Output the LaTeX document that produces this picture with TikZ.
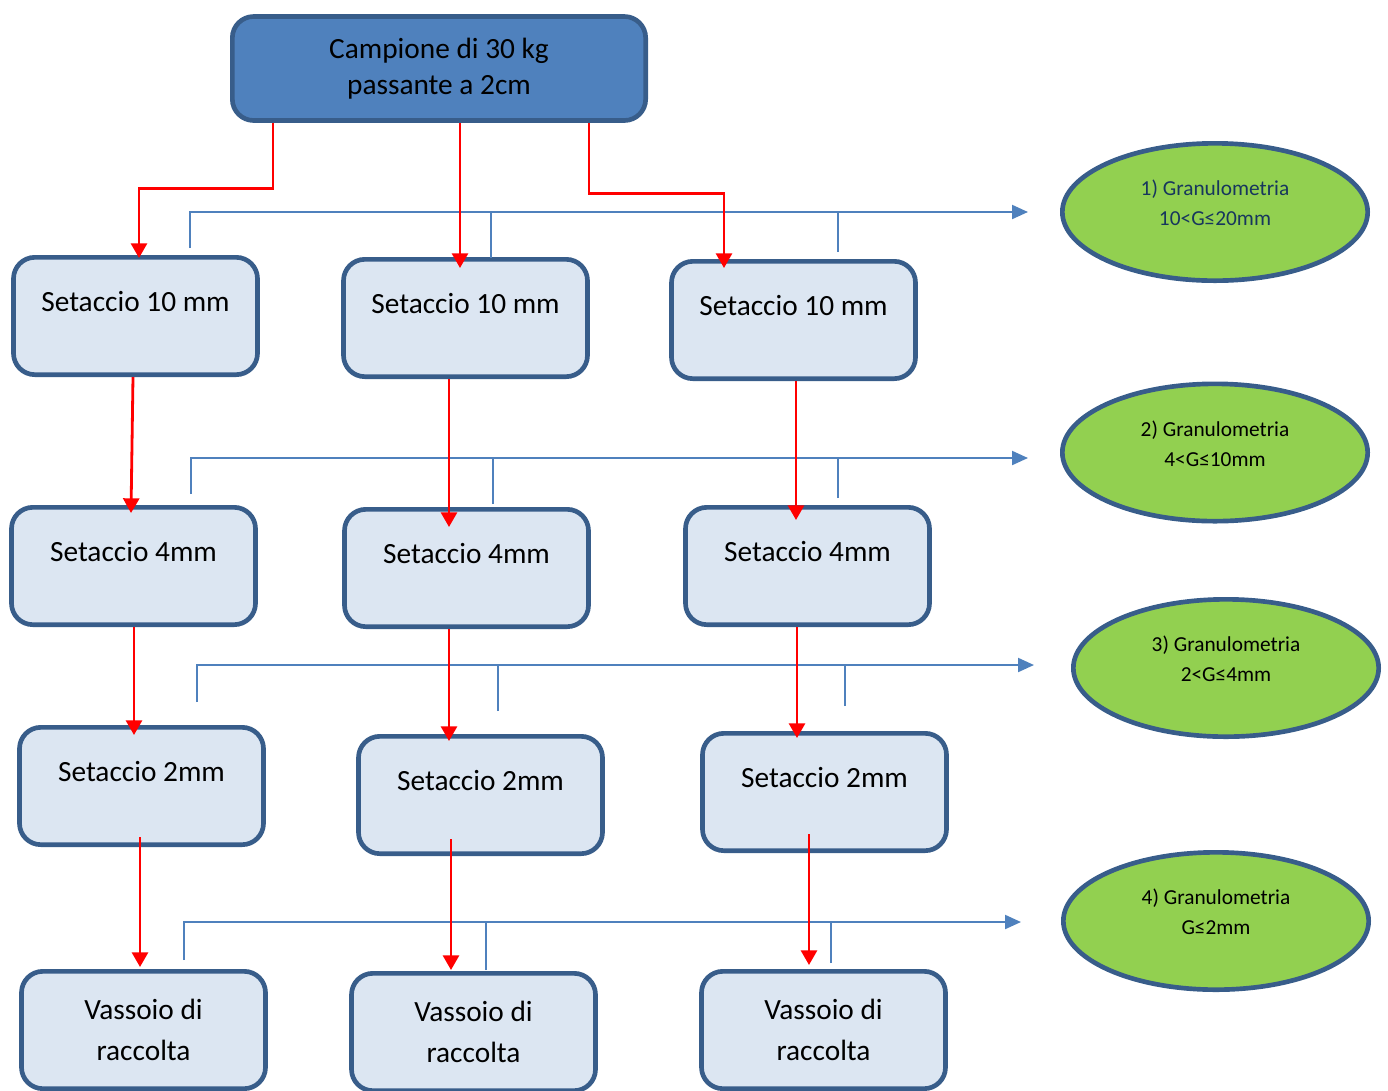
\documentclass[tikz,border=0pt]{standalone}
\usepackage{fontspec}
\setmainfont{Carlito}
\usetikzlibrary{calc,shapes.geometric,arrows.meta}
\definecolor{blue1}{HTML}{4F81BD}
\definecolor{blue2}{HTML}{385D8A}
\definecolor{blue4}{HTML}{DCE6F2}
\definecolor{green1}{HTML}{92D050}
\definecolor{navy1}{HTML}{17365D}

\begin{document}
\begin{tikzpicture}[x=0.75pt, y=-0.75pt,
				box/.style=		{rectangle, rounded corners=16pt, line width=3.5pt, draw=blue2, align=center, font=\fontsize{22}{30.75}\selectfont},
				samplebox/.style=	{box, fill=blue1, minimum width=310pt, minimum height=78pt, font=\fontsize{22}{27}\selectfont},
				sievebox/.style=	{box, fill=blue4, minimum width=183pt, minimum height=88pt},
				sieve/.style=		{sievebox, text depth=22pt},
				classnode/.style=	{ellipse, fill=green1, draw=blue2, line width=3.5pt, minimum width=229pt, minimum height=103pt, align=center, text depth=13.5pt, font=\fontsize{16}{22.5}\selectfont},
				flow/.style=		{arrows={-Triangle[length=11pt, width=12pt]}, draw=red, line width=2.1pt},
				split/.style=		{arrows={-Triangle[length=12pt, width=10.5pt]}, draw=blue1, line width=1.6pt},
				tick/.style=		{draw=blue1, line width=1.6pt}]
	\useasboundingbox (0,0) rectangle (1388,1090);

	\node[samplebox] (top) at (439,68.5) {Campione di 30 kg\\passante a 2cm};
	\foreach \n/\x/\y in {S1a/135.5/316, S1b/465.5/318, S1c/793.5/320}
		\node[sieve] (\n) at (\x,\y) {Setaccio 10 mm};
	\foreach \n/\x/\y in {S2a/133.5/566, S2b/466.5/568, S2c/807.5/566}
		\node[sieve] (\n) at (\x,\y) {Setaccio 4mm};
	\foreach \n/\x/\y in {S3a/141.5/786, S3b/480.5/795, S3c/824.5/792}
		\node[sieve] (\n) at (\x,\y) {Setaccio 2mm};
	\foreach \n/\x/\y in {V1/143.5/1030, V2/473.5/1032, V3/823.5/1030}
		\node[sievebox] (\n) at (\x,\y) {Vassoio di\\raccolta};

	\node[classnode, text=navy1] (E1) at (1215,212) {1) Granulometria\\10<G≤20mm};
	\node[classnode] (E2) at (1215,452.5) {2) Granulometria\\4<G≤10mm};
	\node[classnode] (E3) at (1226,668) {3) Granulometria\\2<G≤4mm};
	\node[classnode] (E4) at (1216,921) {4) Granulometria\\G≤2mm};

	\draw[split] ($(S1a.north)+(54.5,-7)$) |- ($(E1.west)+(-32,0)$);
	\draw[tick] ($(S1b.north)+(25.5,1)$) -- ++(0,-46);
	\draw[tick] ($(S1c.north)+(44.5,-7)$) -- ++(0,-40);
	\draw[split] ($(S2a.north)+(57.5,-11)$) |- ($(E2.west)+(-32,5.5)$);
	\draw[tick] ($(S2b.north)+(26.5,-3)$) -- ++(0,-46);
	\draw[tick] ($(S2c.north)+(30.5,-7)$) -- ++(0,-40);
	\draw[split] ($(S3a.north)+(55.5,-23)$) |- ($(E3.west)+(-37,-3)$);
	\draw[tick] ($(S3b.north)+(17.5,-23)$) -- ++(0,-46);
	\draw[tick] ($(S3c.north)+(20.5,-25)$) -- ++(0,-41);
	\draw[split] ($(V1.north)+(40.5,-9)$) |- ($(E4.west)+(-40,1)$);
	\draw[tick] ($(V2.north)+(12.5,-1)$) -- ++(0,-48);
	\draw[tick] ($(V3.north)+(7.5,-6)$) -- ++(0,-41);

	\draw[flow] ($(top.south)+(-166,0)$) -- ++(0,66) -| ($(S1a.north)+(3.5,3)$);
	\draw[flow] ($(top.south)+(21,0)$) -- ($(S1b.north)+(-5.5,11)$);
	\draw[flow] ($(top.south)+(150,0)$) -- ++(0,71) -| ($(S1c.north)+(-69.5,9)$);
	\draw[flow] ($(S1a.south)+(-2.5,0)$) -- ($(S2a.north)+(-2.5,8)$);
	\draw[flow] ($(S1b.south)+(-16.5,0)$) -- ($(S2b.north)+(-17.5,20)$);
	\draw[flow] ($(S1c.south)+(2.5,0)$) -- ($(S2c.north)+(-11.5,15)$);
	\draw[flow] ($(S2a.south)+(0.5,0)$) -- ($(S3a.north)+(-7.5,10)$);
	\draw[flow] ($(S2b.south)+(-17.5,0)$) -- ($(S3b.north)+(-31.5,7)$);
	\draw[flow] ($(S2c.south)+(-10.5,0)$) -- ($(S3c.north)+(-27.5,7)$);
	\draw[flow] ($(S3a.south)+(-1.5,-10)$) -- ($(V1.north)+(-3.5,-2)$);
	\draw[flow] ($(S3b.south)+(-29.5,-17)$) -- ($(V2.north)+(-22.5,-1)$);
	\draw[flow] ($(S3c.south)+(-15.5,-19)$) -- ($(V3.north)+(-14.5,-4)$);
\end{tikzpicture}
\end{document}
